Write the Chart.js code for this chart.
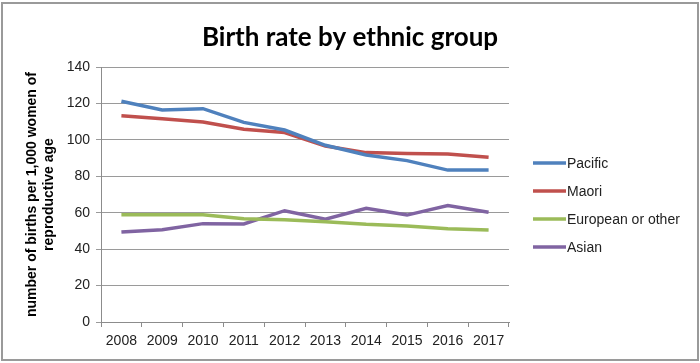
<!DOCTYPE html>
<html>
<head>
<meta charset="utf-8">
<script src="https://cdn.jsdelivr.net/npm/chart.js@4/dist/chart.umd.min.js"></script>
<style>
html,body{margin:0;padding:0;background:#fff;}
#wrap{width:700px;height:363px;position:relative;}
</style>
</head>
<body>
<div id="wrap"><canvas id="c" width="700" height="363"></canvas></div>
<script>
const years = ['2008','2009','2010','2011','2012','2013','2014','2015','2016','2017'];
const pacific  = [121.2, 116.4, 117.1, 109.6, 105.4, 97.0, 91.7, 88.6, 83.4, 83.4];
const maori    = [113.3, 111.6, 109.8, 105.8, 104.0, 96.6, 93.0, 92.5, 92.3, 90.4];
const european = [58.9, 58.9, 58.9, 56.7, 56.2, 55.0, 53.6, 52.7, 51.2, 50.5];
const asian    = [49.4, 50.7, 54.0, 53.8, 61.1, 56.4, 62.4, 58.7, 63.9, 60.2];
const seriesNames = ['Pacific','Maori','European or other','Asian'];
const seriesColors = ['#4F81BD','#C0504D','#9BBB59','#8064A2'];
const yTicksMin = 0, yTicksMax = 140, yTickStep = 20;
const chartTitle = 'Birth rate by ethnic group';
const yTitle = ['number of births per 1,000 women of', 'reproductive age'];

const FONT = "'Liberation Sans', Arial, sans-serif";

const framePlugin = {
  id: 'frame',
  beforeDraw(chart) {
    const ctx = chart.ctx;
    ctx.save();
    ctx.fillStyle = '#fff';
    ctx.fillRect(0, 0, chart.width, chart.height);
    ctx.restore();
  },
  afterDraw(chart) {
    const ctx = chart.ctx;
    ctx.save();
    ctx.strokeStyle = '#9a9a9a';
    ctx.lineWidth = 2;
    ctx.strokeRect(2, 3, 696, 357);
    // title
    ctx.fillStyle = '#000';
    ctx.font = "bold 26px Lato, 'Liberation Sans', sans-serif";
    ctx.textAlign = 'center';
    ctx.textBaseline = 'middle';
    ctx.fillText(chartTitle, 350, 38);
    // legend
    const items = chart.data.datasets;
    const ys = [163, 191, 219, 247];
    ctx.font = "14px " + FONT;
    ctx.textBaseline = 'middle';
    ctx.textAlign = 'left';
    items.forEach((ds, i) => {
      ctx.strokeStyle = ds.borderColor;
      ctx.lineWidth = 3.5;
      ctx.beginPath();
      ctx.moveTo(533, ys[i]);
      ctx.lineTo(566, ys[i]);
      ctx.stroke();
      ctx.fillStyle = '#222';
      ctx.fillText(ds.label, 567, ys[i] + 1);
    });
    ctx.restore();
  }
};

const datasets = [pacific, maori, european, asian].map((d, i) => ({
  label: seriesNames[i],
  data: d,
  borderColor: seriesColors[i],
  backgroundColor: seriesColors[i],
  borderWidth: 3.5,
  pointRadius: 0,
  tension: 0,
  fill: false
}));

new Chart(document.getElementById('c'), {
  type: 'line',
  data: { labels: years, datasets },
  options: {
    responsive: false,
    animation: false,
    layout: { padding: { left: 0, right: 191, top: 67, bottom: 0 } },
    plugins: {
      legend: { display: false },
      tooltip: { enabled: false },
      title: { display: false }
    },
    scales: {
      x: {
        offset: true,
        grid: { offset: true, drawOnChartArea: false, drawTicks: true, tickLength: 5, color: '#8c8c8c', lineWidth: 1 },
        border: { display: true, color: '#8c8c8c' },
        ticks: { color: '#222', font: { family: FONT, size: 14 }, padding: 6, maxRotation: 0, autoSkip: false },
        afterFit(s) { s.height = 41; }
      },
      y: {
        min: yTicksMin, max: yTicksMax,
        ticks: { stepSize: yTickStep, color: '#222', font: { family: FONT, size: 14 }, padding: 6 },
        grid: { color: '#9a9a9a', lineWidth: 1, drawTicks: true, tickLength: 5 },
        border: { display: true, color: '#8c8c8c' },
        title: {
          display: true,
          text: yTitle,
          color: '#000',
          font: { family: FONT, size: 14, weight: 'bold', lineHeight: 1.25 },
          padding: { top: 23, bottom: 0 }
        },
        afterFit(s) { s.width = 101; }
      }
    }
  },
  plugins: [framePlugin]
});
</script>
</body>
</html>
